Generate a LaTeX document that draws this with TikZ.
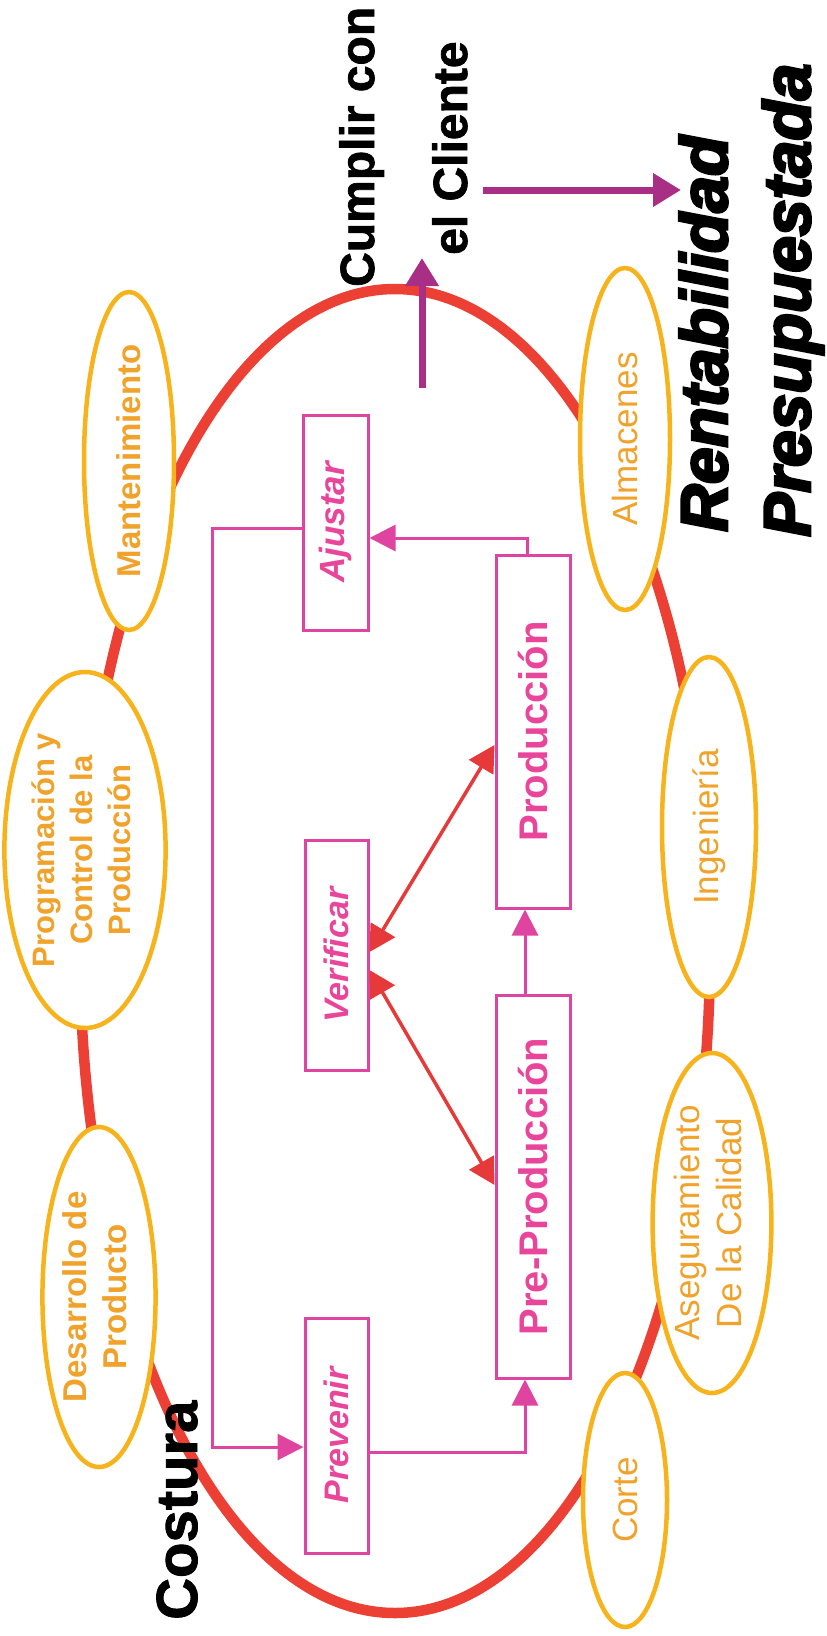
\documentclass[tikz,border=0pt]{standalone}
\usepackage{fontspec}
\setmainfont{Liberation Sans}
\newfontfamily\heavyfont{Liberation Sans}[BoldItalicFeatures={FakeBold=4}]
\newfontfamily\blackfont{Liberation Sans}[BoldFeatures={FakeBold=1.5}]
\usetikzlibrary{shapes.geometric,arrows.meta,calc}
\definecolor{loopred}{HTML}{EC4034}
\definecolor{arrred}{HTML}{E5393A}
\definecolor{pinkline}{HTML}{DF45A0}
\definecolor{pinktext}{HTML}{E8459B}
\definecolor{purparrow}{HTML}{A82E86}
\definecolor{ellline}{HTML}{F6B31C}
\definecolor{elltext}{HTML}{F0A22A}
\newcommand\fsz[1]{\fontsize{#1}{#1}\selectfont}
\newcommand\rlines[3]{\rotatebox{90}{\fontsize{#1}{#2}\selectfont\begin{tabular}{@{}c@{}}#3\end{tabular}}}
\begin{document}
\begin{tikzpicture}[x=1pt,y=-1pt,
  dept/.style={ellipse,draw=ellline,line width=4.5pt,fill=white,inner sep=0pt,text=elltext},
  pbox/.style={rectangle,draw=pinkline,line width=3pt,fill=white,inner sep=0pt,text=pinktext},
  pline/.style={draw=pinkline,line width=3pt},
  ptip/.style={-{Triangle[length=26pt,width=26pt]}},
  rarrow/.style={draw=arrred,line width=3.5pt,{Triangle[length=26pt,width=28pt]}-{Triangle[length=26pt,width=28pt]}},
  parrow/.style={draw=purparrow,line width=7pt,-{Triangle[length=28pt,width=32pt]}},
  blk/.style={rotate=90,anchor=base west,inner sep=0pt,text=black}]
\useasboundingbox (0,0) rectangle (827,1636);
\fill[white] (0,0) rectangle (827,1636);

% big red loop
\node[ellipse,draw=loopred,line width=10.5pt,minimum width=630pt,minimum height=1324pt,inner sep=0pt] (loop) at (395,951) {};

% departments
\node[dept,minimum width=90pt,minimum height=338pt] (mant) at (129,461) {\rotatebox{90}{\fsz{33pt}\bfseries Mantenimiento}};
\node[dept,minimum width=148pt,minimum height=356pt] (prog) at (85,850) {\rlines{31pt}{38pt}{\bfseries Programación y\\\bfseries Control de la\\\bfseries Producción}};
\node[dept,minimum width=92pt,minimum height=340pt] (desa) at (99,1297) {\rlines{33pt}{40pt}{\bfseries Desarrollo de\\\bfseries Producto}};
\node[dept,minimum width=90pt,minimum height=342pt] (alma) at (625,439) {\rotatebox{90}{\fsz{35pt}Almacenes}};
\node[dept,minimum width=94pt,minimum height=340pt] (inge) at (709,827) {\rotatebox{90}{\fsz{35pt}Ingeniería}};
\node[dept,minimum width=90pt,minimum height=340pt] (aseg) at (712,1223) {\rlines{35pt}{42pt}{Aseguramiento\\De la Calidad}};
\node[dept,minimum width=84pt,minimum height=254pt] (cort) at (625,1500) {\rotatebox{90}{\fsz{35pt}Corte}};

% process boxes
\node[pbox,minimum width=65pt,minimum height=215pt] (ajus) at (335.5,522.5) {\rotatebox{90}{\fsz{35pt}\bfseries\itshape Ajustar}};
\node[pbox,minimum width=63pt,minimum height=230pt] (veri) at (336.5,955) {\rotatebox{90}{\fsz{34pt}\bfseries\itshape Verificar}};
\node[pbox,minimum width=63pt,minimum height=235pt] (prev) at (336.5,1435.5) {\rotatebox{90}{\fsz{34pt}\bfseries\itshape Prevenir}};
\node[pbox,minimum width=74pt,minimum height=353pt] (prod) at (533,731.5) {\rotatebox{90}{\fsz{40pt}\bfseries Producción}};
\node[pbox,minimum width=74pt,minimum height=383pt] (prep) at (533,1186.5) {\rotatebox{90}{\fsz{40pt}\bfseries Pre-Producción}};

% pink connectors
\draw[pline,ptip] ($(ajus.west)+(0,5.5)$) -- ++(-89,0) |- ($(prev.west)+(0,11.5)$);
\draw[pline,ptip] ($(prev.east)+(0,16.5)$) -| ($(prep.south)+(-8,0)$);
\draw[pline,ptip] ($(prep.north)+(-8,0)$) -- ($(prod.south)+(-8,0)$);
\draw[pline,ptip] ($(prod.north)+(-6,0)$) |- ($(ajus.east)+(0,15.5)$);

% red double arrows
\draw[rarrow] ($(veri.east)+(0,-3)$) -- ($(prod.west)+(0,13.5)$);
\draw[rarrow] ($(veri.east)+(0,15)$) -- ($(prep.west)+(0,-1.5)$);

% purple arrows
\coordinate (upstart) at (422,388);
\coordinate (uptip) at (422,258);
\coordinate (rstart) at (483,190);
\coordinate (rtip) at (681,190);
\draw[parrow] (upstart) -- (uptip);
\draw[parrow] (rstart) -- (rtip);

% black texts
\node[blk] (cumplir) at (374,287) {\fsz{48pt}\blackfont\bfseries Cumplir con};
\node[blk] (cliente) at (467,255) {\fsz{48pt}\blackfont\bfseries el Cliente};
\node[blk] (renta) at (727,532) {\fsz{66pt}\heavyfont\bfseries\itshape Rentabilidad};
\node[blk] (presu) at (810,537) {\fsz{66pt}\heavyfont\bfseries\itshape Presupuestada};
\node[blk] (costura) at (197,1620) {\fsz{58pt}\blackfont\bfseries Costura};
\end{tikzpicture}
\end{document}
